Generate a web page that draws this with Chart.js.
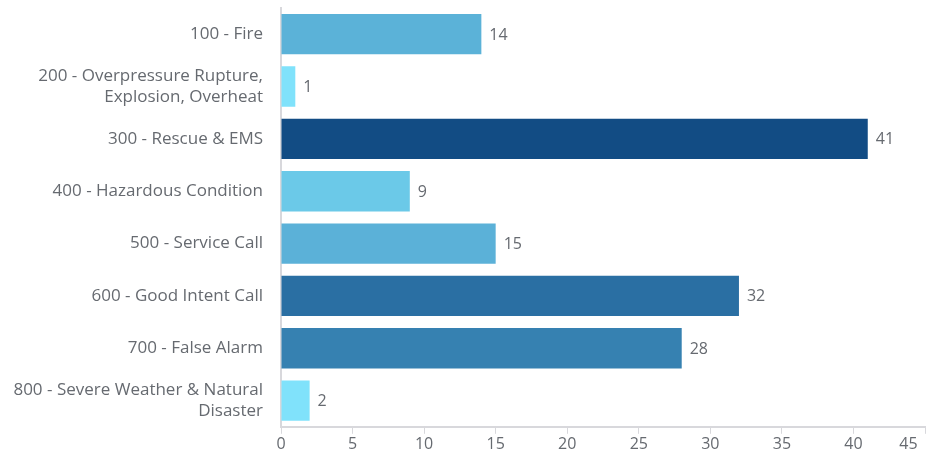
<!DOCTYPE html>
<html>
<head>
<meta charset="utf-8">
<script src="https://cdn.jsdelivr.net/npm/chart.js@4"></script>
<style>
    html, body { margin: 0; padding: 0; background: #fff; }
    #wrap { width: 927px; height: 455px; }
</style>
</head>
<body>
<div id="wrap"><canvas id="incidentChart"></canvas></div>
<script>
// Incident types and counts
const categories = [
    '100 - Fire',
    ['200 - Overpressure Rupture,', 'Explosion, Overheat'],
    '300 - Rescue & EMS',
    '400 - Hazardous Condition',
    '500 - Service Call',
    '600 - Good Intent Call',
    '700 - False Alarm',
    ['800 - Severe Weather & Natural', 'Disaster']
];
const counts = [14, 1, 41, 9, 15, 32, 28, 2];
const barColors = ['#5bb2d8', '#80e2fb', '#124c84', '#6bc9e8', '#5bb1d8', '#2a6fa3', '#3681b1', '#80e2fb'];
const xTicks = [0, 5, 10, 15, 20, 25, 30, 35, 40, 45];

const textColor = '#666a70';
const lineColor = '#d8d8dc';

// Draw the count next to the end of each bar
const valueLabels = {
    id: 'valueLabels',
    afterDatasetsDraw(chart) {
        const ctx = chart.ctx;
        const meta = chart.getDatasetMeta(0);
        ctx.save();
        ctx.font = '16px "Open Sans"';
        ctx.fillStyle = textColor;
        ctx.textAlign = 'left';
        ctx.textBaseline = 'middle';
        meta.data.forEach((bar, i) => {
            ctx.fillText(counts[i], bar.x + 8, bar.y + 1);
        });
        ctx.restore();
    }
};

const canvas = document.getElementById('incidentChart');

new Chart(canvas, {
    type: 'bar',
    data: {
        labels: categories,
        datasets: [{
            data: counts,
            backgroundColor: barColors,
            barPercentage: 0.77,
            categoryPercentage: 1
        }]
    },
    options: {
        indexAxis: 'y',
        responsive: true,
        maintainAspectRatio: false,
        animation: false,
        layout: {
            padding: { top: 8, right: 2, bottom: 0, left: 0 }
        },
        plugins: {
            legend: { display: false },
            tooltip: { enabled: false }
        },
        scales: {
            x: {
                min: 0,
                max: 45,
                afterBuildTicks: (scale) => {
                    scale.ticks = xTicks.map(v => ({ value: v }));
                },
                afterFit: (scale) => {
                    scale.paddingRight = 0;
                    scale.paddingLeft = 0;
                },
                grid: {
                    display: true,
                    drawOnChartArea: false,
                    drawTicks: true,
                    tickLength: 7,
                    color: lineColor
                },
                border: { color: lineColor, width: 2 },
                ticks: {
                    color: textColor,
                    font: { family: 'Open Sans', size: 16 },
                    padding: 1,
                    maxRotation: 0,
                    callback: (value) => value === 45 ? '45        ' : String(value)
                }
            },
            y: {
                afterFit: (scale) => {
                    scale.paddingTop = 0;
                    scale.paddingBottom = 0;
                    scale.width = 281;
                },
                grid: { display: false, drawTicks: false },
                border: { color: lineColor, width: 2 },
                ticks: {
                    color: textColor,
                    font: { family: 'Open Sans', size: 17, lineHeight: 1.25 },
                    padding: 18
                }
            }
        }
    },
    plugins: [valueLabels]
});
</script>
</body>
</html>
